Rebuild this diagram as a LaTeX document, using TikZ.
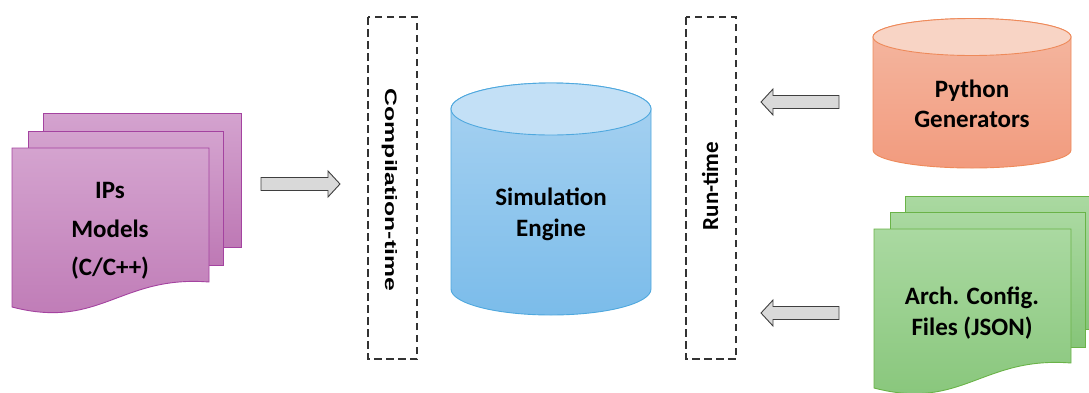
\documentclass[tikz,border=0pt]{standalone}
\usepackage{fontspec}
\usepackage{graphicx}
\setmainfont{Carlito}
\newfontfamily\arialfont{Liberation Sans}[BoldFont={Liberation Sans Bold}]
\definecolor{purT}{HTML}{D4A3CF}
\definecolor{purB}{HTML}{BE79B5}
\definecolor{purL}{HTML}{A443A0}
\definecolor{grnT}{HTML}{AAD9A1}
\definecolor{grnB}{HTML}{86C579}
\definecolor{grnL}{HTML}{6AB348}
\definecolor{bluE}{HTML}{C3E0F6}
\definecolor{bluT}{HTML}{A8D2F1}
\definecolor{bluB}{HTML}{7BBCEA}
\definecolor{bluL}{HTML}{4FA8DE}
\definecolor{orE}{HTML}{F8D4C5}
\definecolor{orT}{HTML}{F4B8A2}
\definecolor{orB}{HTML}{F29B7E}
\definecolor{orL}{HTML}{EE8A5A}
\definecolor{arrF}{HTML}{D9D9D9}
\definecolor{arrL}{HTML}{3F3F3F}
\definecolor{dashC}{HTML}{333333}
\newcommand\frontdoc[3]{%
  \path[#3] (#1,#2) -- ({#1+197},#2) -- ({#1+197},{#2-134})
    .. controls ({#1+108},{#2-127}) and ({#1+88},{#2-182}) .. (#1,{#2-159}) -- cycle;}
\begin{document}
\begin{tikzpicture}[x=1pt,y=1pt,
  purpage/.style={draw=purL,line width=0.9pt,top color=purT,bottom color=purB},
  grnpage/.style={draw=grnL,line width=0.9pt,top color=grnT,bottom color=grnB},
  lbl/.style={font=\bfseries\fontsize{25}{31}\selectfont,align=center,text=black,inner sep=0pt},
  blockarr/.style={draw=arrL,fill=arrF,line width=0.9pt,line join=miter},
  phase/.style={draw=dashC,dash pattern=on 7.5pt off 4.5pt,line width=1.2pt}]
\useasboundingbox (0,0) rectangle (1089,-392);

% ---- IP models stack (purple)
\path[purpage] (43,-113) rectangle (241,-247);
\path[purpage] (28,-131) rectangle (223,-265);
\frontdoc{12}{-148}{purpage}
\node[lbl,font=\bfseries\fontsize{25}{38.5}\selectfont] (ips) at (110,-231) {IPs\\Models\\(C/C++)};

% ---- arrow IPs -> compilation
\coordinate (a1s) at (261,-184);
\coordinate (a1t) at (340,-184);
\path[blockarr] (261,-177.5) -- (328,-177.5) -- (328,-171) -- (a1t) -- (328,-197) -- (328,-190.5) -- (261,-190.5) -- cycle;

% ---- compilation-time box
\draw[phase] (368,-17) rectangle (417,-359);
\node[rotate=-90,inner sep=0pt] (comp) at (389.5,-190)
  {\arialfont\bfseries\fontsize{16.5}{18}\selectfont\scalebox{1.5}[1]{Compilation-time}};

% ---- Simulation engine cylinder
\path[draw=bluL,line width=0.9pt,top color=bluT,bottom color=bluB]
  (451,-109) -- (451,-289) arc[start angle=180,end angle=360,x radius=100,y radius=26]
  -- (651,-109) arc[start angle=0,end angle=180,x radius=100,y radius=26] -- cycle;
\draw[bluL,line width=0.9pt,fill=bluE] (551,-109) ellipse[x radius=100,y radius=26];
\node[lbl] (sim) at (551,-214) {Simulation\\Engine};

% ---- run-time box
\draw[phase] (686,-17) rectangle (736,-359);
\node[rotate=90,inner sep=0pt,font=\bfseries\fontsize{23}{28}\selectfont] (run) at (710,-186) {Run-time};

% ---- arrows into run-time
\path[blockarr] (839,-95.5) -- (773,-95.5) -- (773,-89) -- (761,-102) -- (773,-115) -- (773,-108.5) -- (839,-108.5) -- cycle;
\path[blockarr] (839,-306.5) -- (773,-306.5) -- (773,-300) -- (761,-313) -- (773,-326) -- (773,-319.5) -- (839,-319.5) -- cycle;

% ---- Python generators cylinder
\path[draw=orL,line width=0.9pt,top color=orT,bottom color=orB]
  (873,-37) -- (873,-150) arc[start angle=180,end angle=360,x radius=99,y radius=18]
  -- (1071,-37) arc[start angle=0,end angle=180,x radius=99,y radius=18.5] -- cycle;
\draw[orL,line width=0.9pt,fill=orE] (972,-37) ellipse[x radius=99,y radius=18.5];
\node[lbl,font=\bfseries\fontsize{25}{30}\selectfont] (py) at (972,-104) {Python\\Generators};

% ---- Arch config files stack (green)
\path[grnpage] (905,-196) rectangle (1103,-329);
\path[grnpage] (890,-212) rectangle (1085,-347);
\frontdoc{874}{-229}{grnpage}
\node[lbl] (arch) at (972,-313) {Arch. Config.\\Files (JSON)};
\end{tikzpicture}
\end{document}
